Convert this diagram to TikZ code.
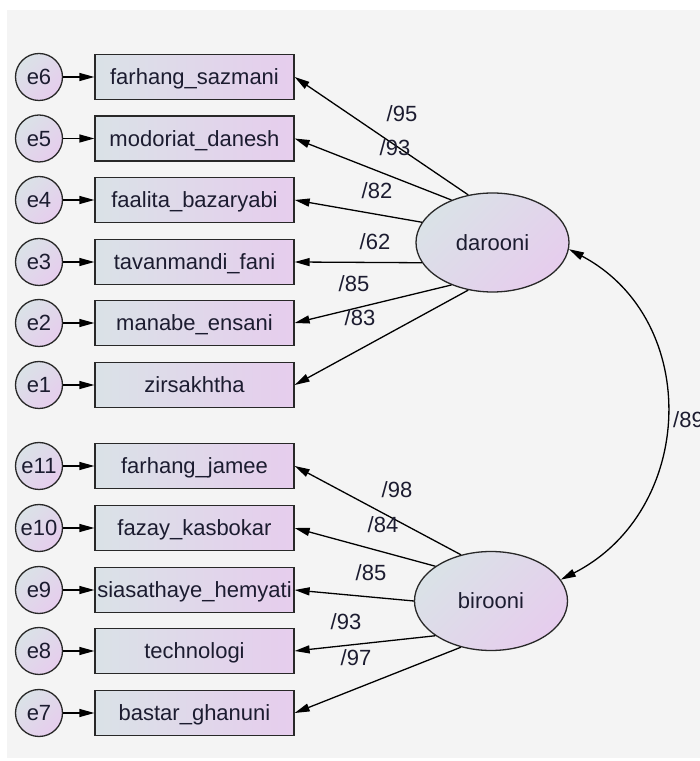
\documentclass[tikz,border=0pt]{standalone}
\usepackage{fontspec}
\setmainfont{Liberation Sans}
\usetikzlibrary{arrows.meta,shapes.geometric}
\definecolor{bgc}{RGB}{244,244,244}
\definecolor{shadeL}{RGB}{218,226,231}
\definecolor{shadeR}{RGB}{230,205,237}
\definecolor{ink}{RGB}{28,28,48}
\definecolor{edgec}{RGB}{40,40,40}
\begin{document}
\begin{tikzpicture}[x=1pt,y=1pt,
  every node/.style={font=\fontsize{22}{26}\selectfont, text=ink},
  obs/.style={rectangle, draw=edgec, line width=1.3pt, minimum width=199pt, minimum height=45pt,
    inner sep=0pt, left color=shadeL, right color=shadeR, text height=15.75pt, text depth=0pt},
  err/.style={circle, draw=edgec, line width=1.3pt, minimum size=47pt, inner sep=0pt,
    top color=shadeL, bottom color=shadeR, shading angle=45, text height=15.75pt, text depth=0pt},
  lat/.style={ellipse, draw=edgec, line width=1.3pt, minimum width=153pt, minimum height=99pt,
    inner sep=0pt, top color=shadeL, bottom color=shadeR, shading angle=45, text height=15.75pt, text depth=0pt},
  wt/.style={inner sep=0pt, text height=15.75pt, text depth=0pt},
  arr/.style={draw=black, line width=1.3pt, -{Triangle[length=15pt,width=8pt]}},
  covarr/.style={draw=black, line width=1.3pt, {Triangle[length=15pt,width=8pt]}-{Triangle[length=15pt,width=8pt]}}
]
\clip (0,0) rectangle (700,761);
\fill[white] (0,0) rectangle (700,761);
\fill[bgc] (7,3) rectangle (700,751);

% top group
\node[obs] (o6) at (194.5,684) {farhang\_sazmani};
\node[obs] (o5) at (194.5,622.5) {modoriat\_danesh};
\node[obs] (o4) at (194.5,561) {faalita\_bazaryabi};
\node[obs] (o3) at (194.5,499) {tavanmandi\_fani};
\node[obs] (o2) at (194.5,438) {manabe\_ensani};
\node[obs] (o1) at (194.5,376) {zirsakhtha};
\node[err] (e6) at (39,684) {e6};
\node[err] (e5) at (39,622.5) {e5};
\node[err] (e4) at (39,561) {e4};
\node[err] (e3) at (39,499) {e3};
\node[err] (e2) at (39,438) {e2};
\node[err] (e1) at (39,376) {e1};

% bottom group
\node[obs] (o11) at (194.5,295) {farhang\_jamee};
\node[obs] (o10) at (194.5,233) {fazay\_kasbokar};
\node[obs] (o9) at (194.5,171) {siasathaye\_hemyati};
\node[obs] (o8) at (194.5,110) {technologi};
\node[obs] (o7) at (194.5,48) {bastar\_ghanuni};
\node[err] (e11) at (39,295) {e11};
\node[err] (e10) at (39,233) {e10};
\node[err] (e9) at (39,171) {e9};
\node[err] (e8) at (39,110) {e8};
\node[err] (e7) at (39,48) {e7};

% latent
\node[lat] (dar) at (492.5,518.5) {darooni};
\node[lat] (bir) at (491,160) {birooni};

% error arrows
\foreach \i in {1,...,11} {\draw[arr] (e\i.east) -- (o\i.west);}

% loadings darooni
\draw[arr] (dar.117) -- (o6.east);
\draw[arr] (dar.134) -- (o5.east);
\draw[arr] (dar.164) -- (o4.east);
\draw[arr] (dar.196) -- (o3.east);
\draw[arr] (dar.226) -- (o2.east);
\draw[arr] (dar.243) -- (o1.east);
% loadings birooni
\draw[arr] (bir.123) -- (o11.east);
\draw[arr] (bir.148) -- (o10.east);
\draw[arr] (bir.180) -- (o9.east);
\draw[arr] (bir.212) -- (o8.east);
\draw[arr] (bir.237) -- (o7.east);

% covariance
\draw[covarr] (dar.-5.5) to[out=-28,in=27,looseness=1.17] (bir.17);

% weights
\node[wt] (w6) at (402,647) {/95};
\node[wt] (w5) at (395,613) {/93};
\node[wt] (w4) at (377,570) {/82};
\node[wt] (w3) at (375,519) {/62};
\node[wt] (w2) at (354,477) {/85};
\node[wt] (w1) at (360,443) {/83};
\node[wt] (w11) at (397,271) {/98};
\node[wt] (w10) at (383,236) {/84};
\node[wt] (w9) at (371,188) {/85};
\node[wt] (w8) at (346,139) {/93};
\node[wt] (w7) at (356,103) {/97};
\node[wt, anchor=west] (wc) at (673,341) {/89};
\end{tikzpicture}
\end{document}
